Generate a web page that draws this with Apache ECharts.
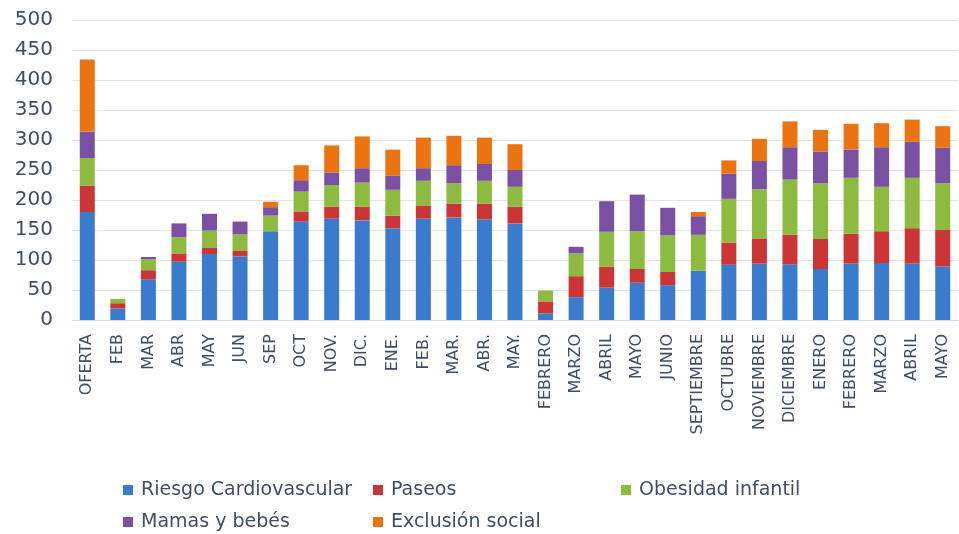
<!DOCTYPE html>
<html>
<head>
<meta charset="utf-8">
<script src="https://cdn.jsdelivr.net/npm/echarts@6/dist/echarts.min.js"></script>
<style>html,body{margin:0;padding:0;background:#fff}#c{width:959px;height:534px}</style>
</head>
<body>
<div id="c"></div>
<script>
const categories = ['OFERTA','FEB','MAR','ABR','MAY','JUN','SEP','OCT','NOV.','DIC.','ENE.','FEB.','MAR.','ABR.','MAY.','FEBRERO','MARZO','ABRIL','MAYO','JUNIO','SEPTIEMBRE','OCTUBRE','NOVIEMBRE','DICIEMBRE','ENERO','FEBRERO ','MARZO ','ABRIL ','MAYO '];
const riesgo   = [180,19,68,97,110,106,148,164,169,166,153,169,171,168,161,11,38,54,62,58,82,92,94,93,85,94,95,94,89];
const paseos   = [44,9,15,14,11,9,0,17,20,23,21,22,23,26,28,20,35,35,23,22,0,37,42,49,50,50,53,59,61];
const obesidad = [46,7,18,27,28,28,26,33,36,40,43,41,34,38,33,18,38,58,63,61,60,73,82,92,93,93,74,84,78];
const mamas    = [44,0,4,23,28,21,14,19,21,24,24,21,30,28,28,0,11,51,61,46,31,42,47,54,53,47,66,60,59];
const exclusion= [120,0,0,0,0,0,9,25,45,53,43,51,49,44,43,0,0,0,0,0,7,22,37,43,36,43,40,37,36];
const yTicks = [0,50,100,150,200,250,300,350,400,450,500];

const names = ['Riesgo Cardiovascular','Paseos','Obesidad infantil','Mamas y bebés','Exclusión social'];
const colors = ['#3A7BCE','#CC3535','#8DBB3F','#7A50A2','#EC7410'];
const datas = [riesgo,paseos,obesidad,mamas,exclusion];
const txt = '#3F4E66';

const legendPos = [[123,480],[373,480],[621,480],[123,512],[373,512]];
const chart = echarts.init(document.getElementById('c'));
chart.setOption({
  animation:false,
  grid:{left:72,right:1,top:20,bottom:214,containLabel:false},
  legend: names.map((n,i)=>({
    data:[n], left:legendPos[i][0], top:legendPos[i][1], padding:0,
    icon:'rect', itemWidth:10, itemHeight:10, itemGap:6,
    textStyle:{fontFamily:'DejaVu Sans', fontSize:19, lineHeight:20, color:txt, padding:[0,0,0,3]}
  })),
  xAxis:{type:'category', data:categories,
    axisLine:{lineStyle:{color:'#D9D9D9'}}, axisTick:{show:false},
    axisLabel:{rotate:90, interval:0, margin:14, fontFamily:'DejaVu Sans', fontSize:16, color:txt,
      formatter:v=>v.trim()}},
  yAxis:{type:'value', min:yTicks[0], max:yTicks[yTicks.length-1], interval:50,
    axisLine:{show:false}, axisTick:{show:false},
    splitLine:{lineStyle:{color:'#E4E4E4'}},
    axisLabel:{margin:19, fontFamily:'DejaVu Sans', fontSize:20, color:txt}},
  series: names.map((n,i)=>({
    name:n, type:'bar', stack:'t', data:datas[i], barWidth:15,
    itemStyle:{color:colors[i]}
  }))
});
</script>
</body>
</html>
